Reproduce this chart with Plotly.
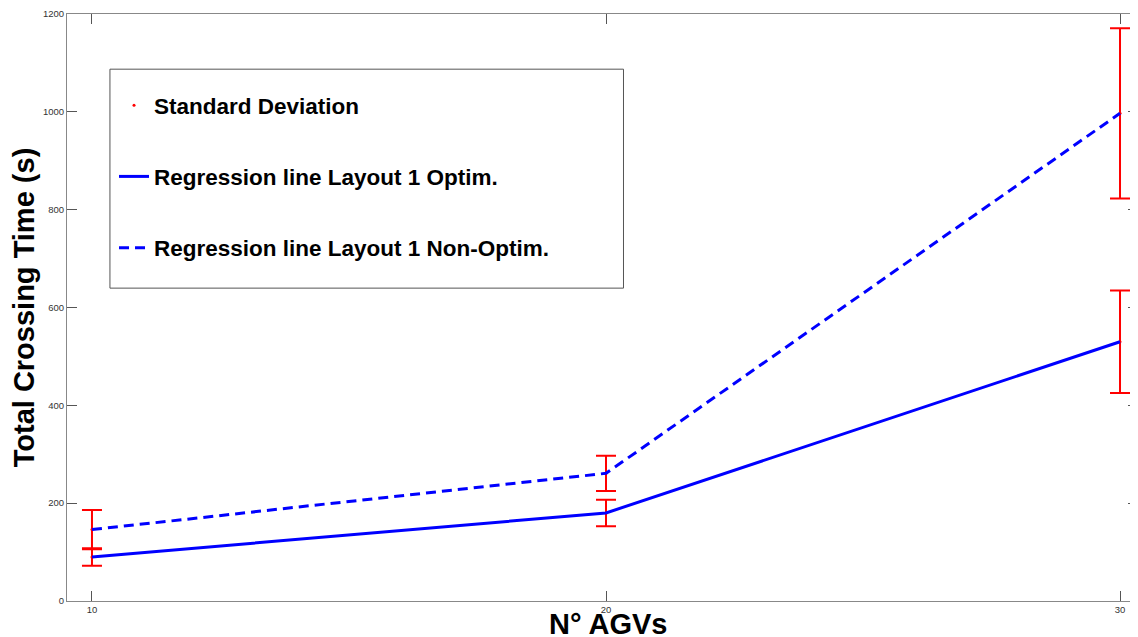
import plotly.graph_objects as go

n_agvs = [10, 20, 30]
optim_time = [90, 180, 530]
optim_sd = [18, 27, 105]
nonoptim_time = [146, 261, 997]
nonoptim_sd = [40, 36, 174]
y_ticks = [0, 200, 400, 600, 800, 1000, 1200]

fig = go.Figure()

fig.add_trace(go.Scatter(
    x=n_agvs + n_agvs, y=optim_time + nonoptim_time,
    mode="markers", name="Standard Deviation",
    marker=dict(color="red", size=3),
    error_y=dict(type="data", array=optim_sd + nonoptim_sd, color="red",
                 thickness=2, width=10),
    legendgroup="a",
))
fig.add_trace(go.Scatter(
    x=n_agvs, y=optim_time, mode="lines",
    name="Regression line Layout 1 Optim.",
    line=dict(color="#0000ff", width=3),
    legendgroup="b",
))
fig.add_trace(go.Scatter(
    x=n_agvs, y=nonoptim_time, mode="lines",
    name="Regression line Layout 1 Non-Optim.",
    line=dict(color="#0000ff", width=3, dash="10px,6px"),
    legendgroup="c",
))

axis_common = dict(
    showgrid=False, zeroline=False, showline=True, linecolor="#888888",
    linewidth=1, mirror="ticks", ticks="inside", ticklen=10, tickcolor="#555555",
    tickfont=dict(family="Liberation Sans, Arial", size=9.5, color="#333333"),
    automargin=False,
)

title_font = dict(family="Liberation Sans, Arial", size=29, color="black", weight="bold")

# page body has an 8px margin, so the figure is offset by (8, 8)
fig.update_layout(
    width=1130, height=629,
    margin=dict(l=59, r=0, t=6, b=36),
    paper_bgcolor="white", plot_bgcolor="white",
    xaxis=dict(range=[9.514, 30.35], tickvals=n_agvs, **axis_common),
    yaxis=dict(range=[0, 1200], tickvals=y_ticks, **axis_common,
               title=dict(text="Total Crossing Time (s)", standoff=3, font=title_font)),
    showlegend=True,
    legend=dict(
        x=0.0439, y=0.8807, xanchor="left", yanchor="top",
        bgcolor="rgba(0,0,0,0)", borderwidth=0,
        font=dict(family="Liberation Sans, Arial", size=22.5, color="black", weight="bold"),
        tracegroupgap=39, itemwidth=30,
    ),
    shapes=[dict(type="rect", xref="paper", yref="paper",
                 x0=0.0401, x1=0.5196, y0=0.533, y1=0.906,
                 line=dict(color="#555555", width=1), fillcolor="white", layer="below")],
    annotations=[dict(text="N° AGVs", xref="paper", yref="paper", x=0.506, y=0,
                      xanchor="center", yanchor="top", yshift=-5, showarrow=False,
                      font=title_font)],
)

fig.write_html("out.html")
